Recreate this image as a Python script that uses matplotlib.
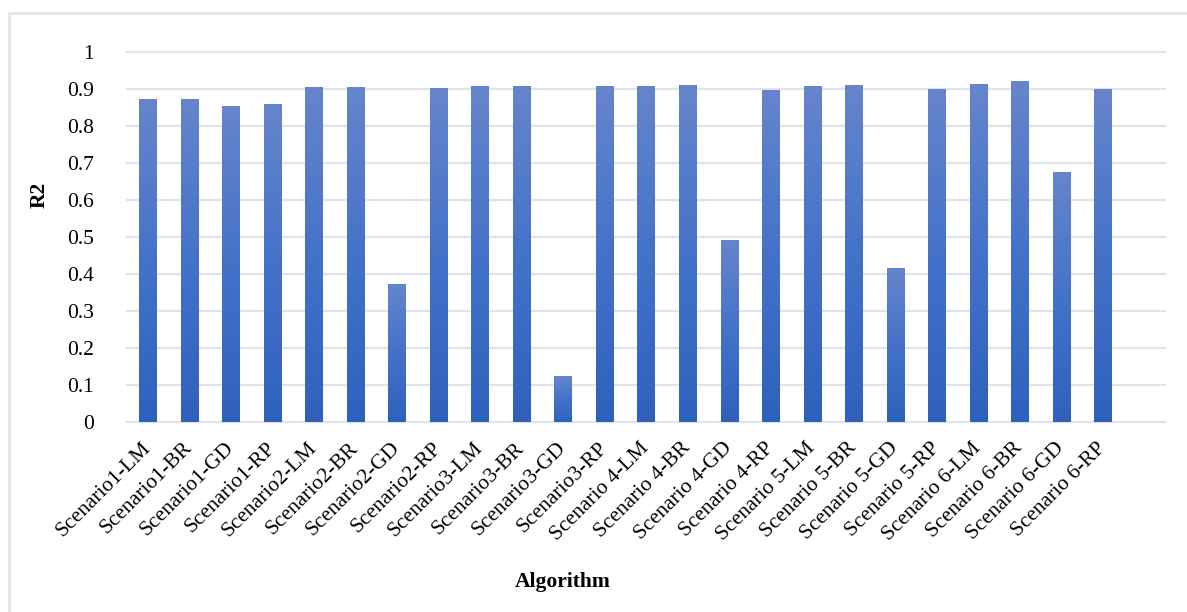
import numpy as np
import matplotlib.pyplot as plt
import matplotlib.transforms as mtransforms
from matplotlib.colors import LinearSegmentedColormap
from matplotlib.patches import Rectangle

# R2 per scenario / training algorithm
labels = ["Scenario1-LM", "Scenario1-BR", "Scenario1-GD", "Scenario1-RP",
          "Scenario2-LM", "Scenario2-BR", "Scenario2-GD", "Scenario2-RP",
          "Scenario3-LM", "Scenario3-BR", "Scenario3-GD", "Scenario3-RP",
          "Scenario 4-LM", "Scenario 4-BR", "Scenario 4-GD", "Scenario 4-RP",
          "Scenario 5-LM", "Scenario 5-BR", "Scenario 5-GD", "Scenario 5-RP",
          "Scenario 6-LM", "Scenario 6-BR", "Scenario 6-GD", "Scenario 6-RP"]
r2 = [0.873, 0.873, 0.854, 0.860,
      0.906, 0.906, 0.372, 0.903,
      0.908, 0.908, 0.124, 0.908,
      0.908, 0.911, 0.492, 0.897,
      0.908, 0.911, 0.416, 0.900,
      0.914, 0.920, 0.676, 0.900]
yticks = [0, 0.1, 0.2, 0.3, 0.4, 0.5, 0.6, 0.7, 0.8, 0.9, 1]

plt.rcParams['font.family'] = ['Liberation Serif', 'DejaVu Serif']
grid_col = '#dfe3ea'
cmap = LinearSegmentedColormap.from_list('bar', ['#2f61bc', '#4472c9', '#6685cc'])

fig = plt.figure(figsize=(11.87, 6.12), dpi=100)
ax = fig.add_axes([127 / 1187, 1 - 421.7 / 612, (1165 - 127) / 1187, (421.7 - 52) / 612])

# outer chart frame (runs off the right and bottom edges)
fig.patches.append(Rectangle((8.5 / 1187, -0.1), 1.2, (612 - 13) / 612 + 0.1,
                             transform=fig.transFigure, fill=False,
                             edgecolor=grid_col, linewidth=1.8, zorder=0))

for y in yticks:
    ax.axhline(y, color=grid_col, linewidth=1.6, zorder=1, clip_on=False)

# bars with a vertical gradient, light at the top and dark at the base
width = 0.41
grad = np.linspace(0, 1, 256).reshape(-1, 1)
for i, v in enumerate(r2):
    ax.imshow(grad, cmap=cmap, origin='lower', aspect='auto',
              extent=(i - width / 2, i + width / 2, 0, v), zorder=2)

ax.set_xlim(-0.5, len(labels) + 0.5)
ax.set_ylim(0, 1)
ax.set_yticks(yticks)
ax.set_yticklabels([f"{t:g}" for t in yticks], fontsize=15.5)
ax.set_xticks(range(len(labels)))
ax.set_xticklabels(labels, rotation=45, ha='right', va='center',
                   rotation_mode='anchor', fontsize=15.5)
shift = mtransforms.ScaledTranslation(4 / 100, 0, fig.dpi_scale_trans)
for lab in ax.get_xticklabels():
    lab.set_transform(lab.get_transform() + shift)
ax.tick_params(axis='x', length=0, pad=17)
ax.tick_params(axis='y', length=0, pad=24)
for s in ax.spines.values():
    s.set_visible(False)

fig.text(40 / 1187, 1 - 195 / 612, "R2", rotation=90, ha='center', va='center',
         fontsize=15.5, fontweight='bold')
fig.text(563 / 1187, 1 - 582 / 612, "Algorithm", ha='center', va='center',
         fontsize=15.5, fontweight='bold')

fig.savefig("out.png", dpi=100)
